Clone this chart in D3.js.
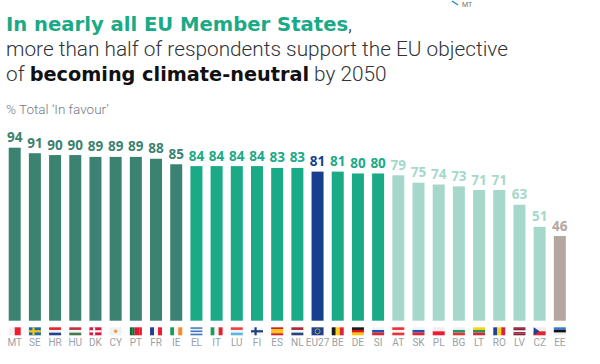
<!DOCTYPE html>
<html>
<head>
<meta charset="utf-8">
<script src="https://d3js.org/d3.v7.min.js"></script>
<style>
html, body { margin: 0; padding: 0; background: #fff; }
svg { display: block; }
text { font-family: Roboto, sans-serif; }
.axis path, .axis line { display: none; }
.axis text { font-size: 10px; fill: #9a9fa6; font-family: Roboto, sans-serif; }
</style>
</head>
<body>
<svg id="chart" width="600" height="364"></svg>
<script>
const countries = ['MT','SE','HR','HU','DK','CY','PT','FR','IE','EL','IT','LU','FI','ES','NL','EU27','BE','DE','SI','AT','SK','PL','BG','LT','RO','LV','CZ','EE']
const inFavour = [94,91,90,90,89,89,89,88,85,84,84,84,84,83,83,81,81,80,80,79,75,74,73,71,71,63,51,46]
const groups = ['dark','dark','dark','dark','dark','dark','dark','dark','dark','mid','mid','mid','mid','mid','mid','eu','mid','mid','mid','light','light','light','light','light','light','light','light','low']

const stripes = {
    MT: ['v', '#f1f1f1', '#ee1c33'],
    SE: ['v', '#1f6aa8'],
    HR: ['h', '#e2272e', '#f4f4f4', '#24418f'],
    HU: ['h', '#c8313e', '#f4f4f4', '#3f7a50'],
    DK: ['v', '#d3173f'],
    CY: ['v', '#f1f1f1'],
    PT: ['v', '#0f6a3a', '#0f6a3a', '#e3152a', '#e3152a', '#e3152a'],
    FR: ['v', '#24418f', '#f4f4f4', '#ee1c33'],
    IE: ['v', '#1f9a5c', '#f4f4f4', '#f58a2c'],
    EL: ['h', '#3f78c0', '#e8eef6', '#3f78c0', '#e8eef6', '#3f78c0'],
    IT: ['v', '#1f9a5c', '#f4f4f4', '#e3242e'],
    LU: ['h', '#e8414a', '#f4f4f4', '#58b5e8'],
    FI: ['v', '#f4f4f4'],
    ES: ['h', '#d0222c', '#f5c400', '#f5c400', '#d0222c'],
    NL: ['h', '#a82a3a', '#f4f4f4', '#25457f'],
    EU27: ['v', '#1f3f8f'],
    BE: ['v', '#1a1a1a', '#f7d51d', '#e8213a'],
    DE: ['h', '#1a1a1a', '#d8121f', '#f8c500'],
    SI: ['h', '#f4f4f4', '#2050b0', '#e3242e'],
    AT: ['h', '#e8323c', '#f4f4f4', '#e8323c'],
    SK: ['h', '#f4f4f4', '#2050b0', '#e3242e'],
    PL: ['h', '#f0f0f0', '#ee1c33'],
    BG: ['h', '#f0f0f0', '#1f9a6c', '#e3352e'],
    LT: ['h', '#f7d51d', '#2f8f4e', '#d3283a'],
    RO: ['v', '#24418f', '#f7d51d', '#d3283a'],
    LV: ['h', '#8a2138', '#8a2138', '#f0f0f0', '#8a2138', '#8a2138'],
    CZ: ['h', '#f0f0f0', '#e3242e'],
    EE: ['h', '#3c78c8', '#111111', '#f0f0f0']
}
const crosses = {SE: '#f4c81e', DK: '#f4f4f4', FI: '#1f3f80'}

const barColor = {dark: '#3b8270', mid: '#1aaa86', eu: '#163f8e', light: '#a5d8ca', low: '#b4a7a1'}

const svg = d3.select('#chart')
const baseY = 320.7
const step = 20.19

const x = d3.scaleBand()
    .domain(countries)
    .range([8.7, 8.7 + 27 * step + 12])
    .paddingInner(1 - 12 / step)
    .paddingOuter(0)

const y = d3.scaleLinear()
    .domain([0, 94])
    .range([baseY, 147.7])

const rows = countries.map((c, i) => ({c, v: inFavour[i], g: groups[i]}))

// Title block
const bold = '"DejaVu Sans", sans-serif'
const line1 = svg.append('text').attr('x', 6).attr('y', 31).attr('font-size', 20.8)
line1.append('tspan').attr('font-weight', 'bold').attr('font-size', 19.6).style('font-family', bold).attr('fill', '#1aaa86')
    .text('In nearly all EU Member States')
line1.append('tspan').attr('fill', '#333').attr('font-weight', 300).text(',')

svg.append('text').attr('x', 6).attr('y', 56).attr('font-size', 20.8).attr('font-weight', 300).attr('fill', '#2f3338')
    .text('more than half of respondents support the EU objective')

const line3 = svg.append('text').attr('x', 6).attr('y', 81).attr('font-size', 20.8).attr('font-weight', 300).attr('fill', '#2f3338')
line3.append('tspan').text('of ')
line3.append('tspan').attr('font-weight', 'bold').style('font-family', bold).attr('font-size', 19.3).attr('fill', '#111').text('becoming climate-neutral')
line3.append('tspan').text(' by 2050')

svg.append('text').attr('x', 6).attr('y', 114).attr('font-size', 13.5).attr('font-weight', 300).attr('fill', '#74797f')
    .text('% Total ‘In favour’')

// stray map label at the top
svg.append('line').attr('x1', 452).attr('y1', 1).attr('x2', 458).attr('y2', 5)
    .attr('stroke', '#2a8fc0').attr('stroke-width', 1.5)
svg.append('text').attr('x', 462).attr('y', 6.5).attr('font-size', 7).attr('fill', '#777').text('MT')

// Bars
svg.append('g').selectAll('rect')
    .data(rows)
    .enter().append('rect')
    .attr('x', d => x(d.c))
    .attr('y', d => y(d.v))
    .attr('width', x.bandwidth())
    .attr('height', d => baseY - y(d.v))
    .attr('fill', d => barColor[d.g])

// Value labels
svg.append('g').selectAll('text')
    .data(rows)
    .enter().append('text')
    .attr('x', d => x(d.c) + x.bandwidth() / 2)
    .attr('y', d => y(d.v) - 5.5)
    .attr('text-anchor', 'middle')
    .attr('font-size', 13.5)
    .attr('font-weight', 'bold')
    .style('font-family', '"Open Sans", sans-serif')
    .attr('fill', d => barColor[d.g])
    .text(d => d.v)

// Flags
const flagY = 327.3, flagH = 8
const flags = svg.append('g').selectAll('g')
    .data(countries)
    .enter().append('g')
    .attr('transform', c => `translate(${x(c)},${flagY})`)

flags.each(function (c) {
    const g = d3.select(this)
    const [dir, ...cols] = stripes[c]
    const w = x.bandwidth()
    cols.forEach((col, i) => {
        g.append('rect')
            .attr('x', dir === 'v' ? i * w / cols.length : 0)
            .attr('y', dir === 'h' ? i * flagH / cols.length : 0)
            .attr('width', dir === 'v' ? w / cols.length : w)
            .attr('height', dir === 'h' ? flagH / cols.length : flagH)
            .attr('fill', col)
    })
    if (crosses[c]) {
        g.append('rect').attr('x', 3.5).attr('width', 2.2).attr('height', flagH).attr('fill', crosses[c])
        g.append('rect').attr('y', 2.9).attr('width', w).attr('height', 2.2).attr('fill', crosses[c])
    }
    if (c === 'CZ') g.append('path').attr('d', `M0,0L6,${flagH / 2}L0,${flagH}Z`).attr('fill', '#24418f')
    if (c === 'CY') g.append('circle').attr('cx', w / 2).attr('cy', flagH / 2).attr('r', 1.8).attr('fill', '#e0a050')
    if (c === 'EU27') g.append('circle').attr('cx', w / 2).attr('cy', flagH / 2).attr('r', 2.5).attr('fill', 'none').attr('stroke', '#c8c040').attr('stroke-width', 0.8)
})

// Country codes
svg.append('g')
    .attr('class', 'axis')
    .attr('transform', 'translate(0,335)')
    .call(d3.axisBottom(x).tickSize(0).tickPadding(4))
</script>
</body>
</html>
